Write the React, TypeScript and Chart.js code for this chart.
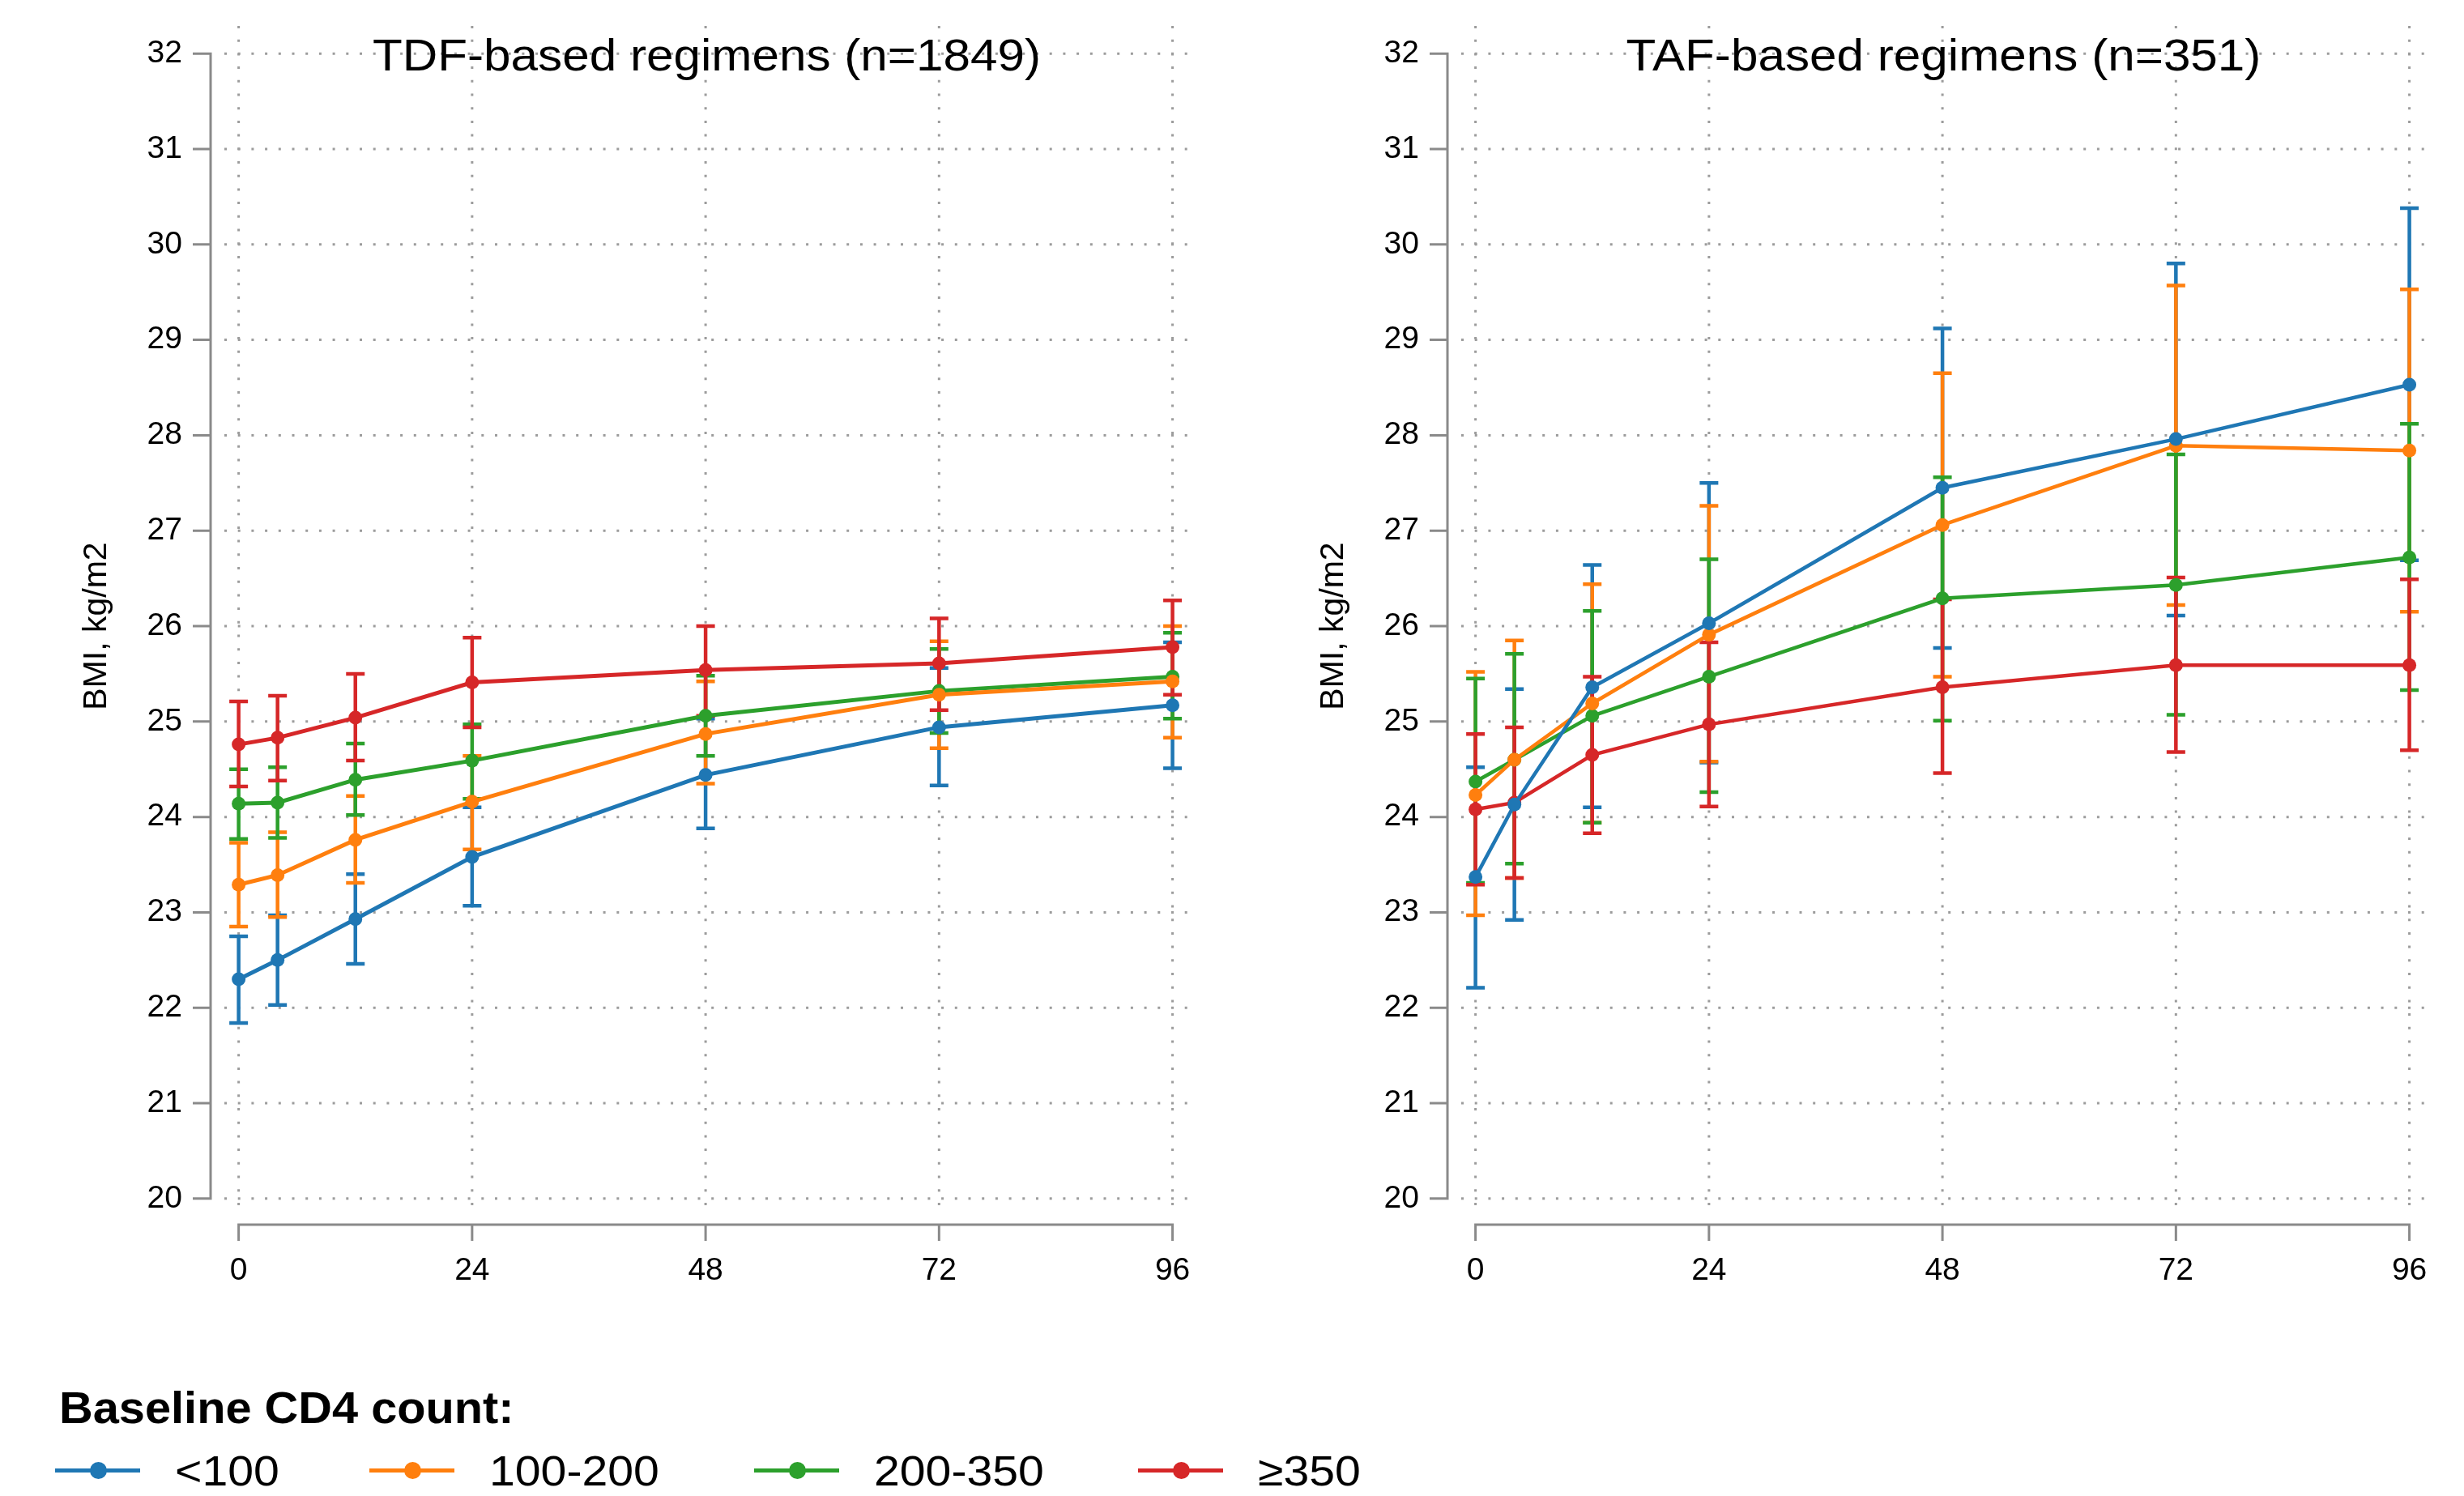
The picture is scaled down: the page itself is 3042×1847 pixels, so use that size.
import React, { useEffect, useRef } from 'react';
import { Chart, registerables } from 'chart.js';

Chart.register(...registerables);

// ---------- data ----------
const WEEKS = [0, 4, 12, 24, 48, 72, 96];
const X_TICKS = [0, 24, 48, 72, 96];
const Y_TICKS = [20, 21, 22, 23, 24, 25, 26, 27, 28, 29, 30, 31, 32];
const GROUPS = ['<100', '100-200', '200-350', '≥350'];
const COLORS = ['#1f77b4', '#ff7f0e', '#2ca02c', '#d62728'];

const TDF_TITLE = 'TDF-based regimens (n=1849)';
const TAF_TITLE = 'TAF-based regimens (n=351)';
const Y_TITLE = 'BMI, kg/m2';
const LEGEND_TITLE = 'Baseline CD4 count:';

// TDF-based regimens
const TDF_LT100 = [22.3, 22.5, 22.93, 23.58, 24.44, 24.94, 25.17];
const TDF_LT100_LO = [21.84, 22.03, 22.46, 23.07, 23.88, 24.33, 24.51];
const TDF_LT100_HI = [22.75, 22.97, 23.4, 24.1, 25.03, 25.56, 25.83];

const TDF_100_200 = [23.29, 23.39, 23.76, 24.16, 24.87, 25.28, 25.42];
const TDF_100_200_LO = [22.85, 22.95, 23.31, 23.66, 24.35, 24.72, 24.83];
const TDF_100_200_HI = [23.73, 23.84, 24.22, 24.64, 25.42, 25.84, 26.0];

const TDF_200_350 = [24.14, 24.15, 24.39, 24.59, 25.06, 25.32, 25.47];
const TDF_200_350_LO = [23.77, 23.78, 24.02, 24.19, 24.64, 24.88, 25.03];
const TDF_200_350_HI = [24.5, 24.52, 24.77, 24.97, 25.48, 25.76, 25.93];

const TDF_GE350 = [24.76, 24.83, 25.04, 25.41, 25.54, 25.61, 25.78];
const TDF_GE350_LO = [24.32, 24.38, 24.59, 24.94, 25.06, 25.12, 25.28];
const TDF_GE350_HI = [25.21, 25.27, 25.5, 25.88, 26.0, 26.08, 26.27];

// TAF-based regimens
const TAF_LT100 = [23.37, 24.13, 25.36, 26.03, 27.45, 27.96, 28.53];
const TAF_LT100_LO = [22.21, 22.92, 24.1, 24.57, 25.77, 26.11, 26.69];
const TAF_LT100_HI = [24.52, 25.34, 26.64, 27.5, 29.12, 29.8, 30.38];

const TAF_100_200 = [24.23, 24.6, 25.19, 25.91, 27.06, 27.89, 27.84];
const TAF_100_200_LO = [22.97, 23.36, 23.94, 24.58, 25.47, 26.22, 26.15];
const TAF_100_200_HI = [25.52, 25.85, 26.44, 27.26, 28.65, 29.57, 29.53];

const TAF_200_350 = [24.37, 24.6, 25.06, 25.47, 26.29, 26.43, 26.72];
const TAF_200_350_LO = [23.31, 23.51, 23.94, 24.26, 25.01, 25.07, 25.33];
const TAF_200_350_HI = [25.45, 25.71, 26.16, 26.7, 27.56, 27.8, 28.12];

const TAF_GE350 = [24.08, 24.15, 24.65, 24.97, 25.36, 25.59, 25.59];
const TAF_GE350_LO = [23.29, 23.36, 23.83, 24.11, 24.46, 24.68, 24.7];
const TAF_GE350_HI = [24.87, 24.94, 25.47, 25.83, 26.28, 26.51, 26.49];

type Series = { mean: number[]; lo: number[]; hi: number[] };

const TDF_SERIES: Series[] = [
  { mean: TDF_LT100, lo: TDF_LT100_LO, hi: TDF_LT100_HI },
  { mean: TDF_100_200, lo: TDF_100_200_LO, hi: TDF_100_200_HI },
  { mean: TDF_200_350, lo: TDF_200_350_LO, hi: TDF_200_350_HI },
  { mean: TDF_GE350, lo: TDF_GE350_LO, hi: TDF_GE350_HI },
];
const TAF_SERIES: Series[] = [
  { mean: TAF_LT100, lo: TAF_LT100_LO, hi: TAF_LT100_HI },
  { mean: TAF_100_200, lo: TAF_100_200_LO, hi: TAF_100_200_HI },
  { mean: TAF_200_350, lo: TAF_200_350_LO, hi: TAF_200_350_HI },
  { mean: TAF_GE350, lo: TAF_GE350_LO, hi: TAF_GE350_HI },
];

// ---------- style ----------
const FONT = "'Liberation Sans', Arial, sans-serif";
const AXIS_GREY = '#8a8a8a';
const GRID_GREY = '#9c9c9c';
const CANVAS_W = 1515;
const CANVAS_H = 1640;

function zeroPadding(s: any) {
  s.paddingTop = 0;
  s.paddingBottom = 0;
  s.paddingLeft = 0;
  s.paddingRight = 0;
}

function makeConfig(title: string, series: Series[], lw: number): any {
  const datasets = series.map((s, i) => ({
    label: GROUPS[i],
    data: WEEKS.map((w, j) => ({ x: w, y: s.mean[j] })),
    borderColor: COLORS[i],
    backgroundColor: COLORS[i],
    pointBackgroundColor: COLORS[i],
    pointBorderColor: COLORS[i],
    pointBorderWidth: 0,
    pointRadius: 8.5,
    pointHoverRadius: 8.5,
    borderWidth: lw,
    tension: 0,
    fill: false,
  }));

  const panelPlugin = {
    id: 'panelDecor',
    beforeDatasetsDraw(chart: any) {
      const { ctx, chartArea: ca } = chart;
      const x = chart.scales.x;
      const y = chart.scales.y;
      ctx.save();
      // dotted grid
      ctx.strokeStyle = GRID_GREY;
      ctx.lineWidth = 3;
      ctx.setLineDash([3, 13.7]);
      Y_TICKS.forEach((v) => {
        const py = y.getPixelForValue(v);
        ctx.beginPath();
        ctx.moveTo(ca.left + 10, py);
        ctx.lineTo(ca.right, py);
        ctx.stroke();
      });
      X_TICKS.forEach((v) => {
        const px = x.getPixelForValue(v);
        ctx.beginPath();
        ctx.moveTo(px, ca.top);
        ctx.lineTo(px, ca.bottom);
        ctx.stroke();
      });
      ctx.setLineDash([]);

      // axes
      ctx.strokeStyle = AXIS_GREY;
      ctx.lineWidth = 3;
      const ax = ca.left - 7;
      const yTop = y.getPixelForValue(Y_TICKS[Y_TICKS.length - 1]);
      const yBot = y.getPixelForValue(Y_TICKS[0]);
      ctx.beginPath();
      ctx.moveTo(ax, yTop - 1.5);
      ctx.lineTo(ax, yBot + 1.5);
      Y_TICKS.forEach((v) => {
        const py = y.getPixelForValue(v);
        ctx.moveTo(ax - 22, py);
        ctx.lineTo(ax + 1.5, py);
      });
      ctx.stroke();

      const ay = ca.bottom + 18;
      const xL = x.getPixelForValue(X_TICKS[0]);
      const xR = x.getPixelForValue(X_TICKS[X_TICKS.length - 1]);
      ctx.beginPath();
      ctx.moveTo(xL - 1.5, ay);
      ctx.lineTo(xR + 1.5, ay);
      X_TICKS.forEach((v) => {
        const px = x.getPixelForValue(v);
        ctx.moveTo(px, ay - 1.5);
        ctx.lineTo(px, ay + 20);
      });
      ctx.stroke();

      // error bars
      ctx.lineWidth = 4.5;
      series.forEach((s, i) => {
        ctx.strokeStyle = COLORS[i];
        WEEKS.forEach((w, j) => {
          const px = x.getPixelForValue(w);
          const pl = y.getPixelForValue(s.lo[j]);
          const ph = y.getPixelForValue(s.hi[j]);
          ctx.beginPath();
          ctx.moveTo(px, pl);
          ctx.lineTo(px, ph);
          ctx.moveTo(px - 11.5, pl);
          ctx.lineTo(px + 11.5, pl);
          ctx.moveTo(px - 11.5, ph);
          ctx.lineTo(px + 11.5, ph);
          ctx.stroke();
        });
      });
      ctx.restore();
    },
    afterDraw(chart: any) {
      const { ctx, chartArea: ca } = chart;
      const y = chart.scales.y;
      ctx.save();
      ctx.fillStyle = '#000';
      // panel title
      ctx.font = `55px ${FONT}`;
      ctx.textAlign = 'center';
      ctx.textBaseline = 'alphabetic';
      ctx.translate((ca.left + ca.right) / 2 + 2, 87);
      ctx.scale(1.095, 1);
      ctx.fillText(title, 0, 0);
      ctx.restore();

      // y axis title
      ctx.save();
      ctx.fillStyle = '#000';
      ctx.font = `41px ${FONT}`;
      ctx.textAlign = 'center';
      ctx.textBaseline = 'alphabetic';
      const cy = (y.getPixelForValue(Y_TICKS[0]) + y.getPixelForValue(Y_TICKS[Y_TICKS.length - 1])) / 2;
      ctx.translate(131, cy);
      ctx.rotate(-Math.PI / 2);
      ctx.fillText(Y_TITLE, 0, 0);
      ctx.restore();
    },
  };

  return {
    type: 'line',
    data: { datasets },
    options: {
      responsive: false,
      animation: false,
      devicePixelRatio: 1,
      layout: { padding: { top: 32, right: 41, left: 0, bottom: 0 } },
      plugins: {
        legend: { display: false },
        tooltip: { enabled: false },
        title: { display: false },
      },
      events: [],
      scales: {
        x: {
          type: 'linear',
          min: -2.3,
          max: 98.2,
          afterBuildTicks: (s: any) => {
            s.ticks = X_TICKS.map((v) => ({ value: v }));
          },
          afterFit: (s: any) => {
            s.height = CANVAS_H - 1494;
            zeroPadding(s);
          },
          grid: { display: false, drawTicks: false },
          border: { display: false },
          ticks: {
            autoSkip: false,
            maxRotation: 0,
            padding: 52,
            color: '#000',
            font: { family: 'Liberation Sans', size: 39 },
            callback: (v: any) => String(v),
          },
        },
        y: {
          type: 'linear',
          min: 19.88,
          max: 32.29,
          afterBuildTicks: (s: any) => {
            s.ticks = Y_TICKS.map((v) => ({ value: v }));
          },
          afterFit: (s: any) => {
            s.width = 267;
            zeroPadding(s);
          },
          grid: { display: false, drawTicks: false },
          border: { display: false },
          ticks: {
            autoSkip: false,
            padding: 42,
            color: '#000',
            font: { family: 'Liberation Sans', size: 39 },
            callback: (v: any) => String(v),
          },
        },
      },
    },
    plugins: [panelPlugin],
  };
}

function Panel({ left, title, series, lw }: { left: number; title: string; series: Series[]; lw: number }) {
  const ref = useRef<HTMLCanvasElement>(null);
  useEffect(() => {
    const chart = new Chart(ref.current as HTMLCanvasElement, makeConfig(title, series, lw));
    return () => chart.destroy();
  }, [title, series, lw]);
  return (
    <canvas
      ref={ref}
      width={CANVAS_W}
      height={CANVAS_H}
      style={{ position: 'absolute', left, top: 0, width: CANVAS_W, height: CANVAS_H }}
    />
  );
}

const LEGEND_LEFT = [68, 456, 931, 1405];

export default function App() {
  useEffect(() => {
    document.body.style.margin = '0';
    document.body.style.background = '#fff';
  }, []);
  return (
    <div style={{ position: 'relative', width: 3042, height: 1847, overflow: 'hidden', background: '#fff' }}>
      <Panel left={0} title={TDF_TITLE} series={TDF_SERIES} lw={5} />
      <Panel left={1527} title={TAF_TITLE} series={TAF_SERIES} lw={4.5} />
      <div
        style={{
          position: 'absolute',
          left: 73,
          top: 1711,
          font: `bold 55px ${FONT}`,
          lineHeight: '55px',
          transform: 'scaleX(1.05)',
          transformOrigin: 'left top',
          whiteSpace: 'nowrap',
          color: '#000',
        }}
      >
        {LEGEND_TITLE}
      </div>
      {GROUPS.map((g, i) => (
        <React.Fragment key={g}>
          <div
            style={{
              position: 'absolute',
              left: LEGEND_LEFT[i],
              top: 1813,
              width: 105,
              height: 5,
              background: COLORS[i],
            }}
          />
          <div
            style={{
              position: 'absolute',
              left: LEGEND_LEFT[i] + 53 - 10.5,
              top: 1815.5 - 10.5,
              width: 21,
              height: 21,
              borderRadius: '50%',
              background: COLORS[i],
            }}
          />
          <div
            style={{
              position: 'absolute',
              left: LEGEND_LEFT[i] + 148,
              top: 1790,
              font: `52px ${FONT}`,
              lineHeight: '52px',
              transform: 'scaleX(1.1)',
              transformOrigin: 'left top',
              whiteSpace: 'nowrap',
              color: '#000',
            }}
          >
            {g}
          </div>
        </React.Fragment>
      ))}
    </div>
  );
}
